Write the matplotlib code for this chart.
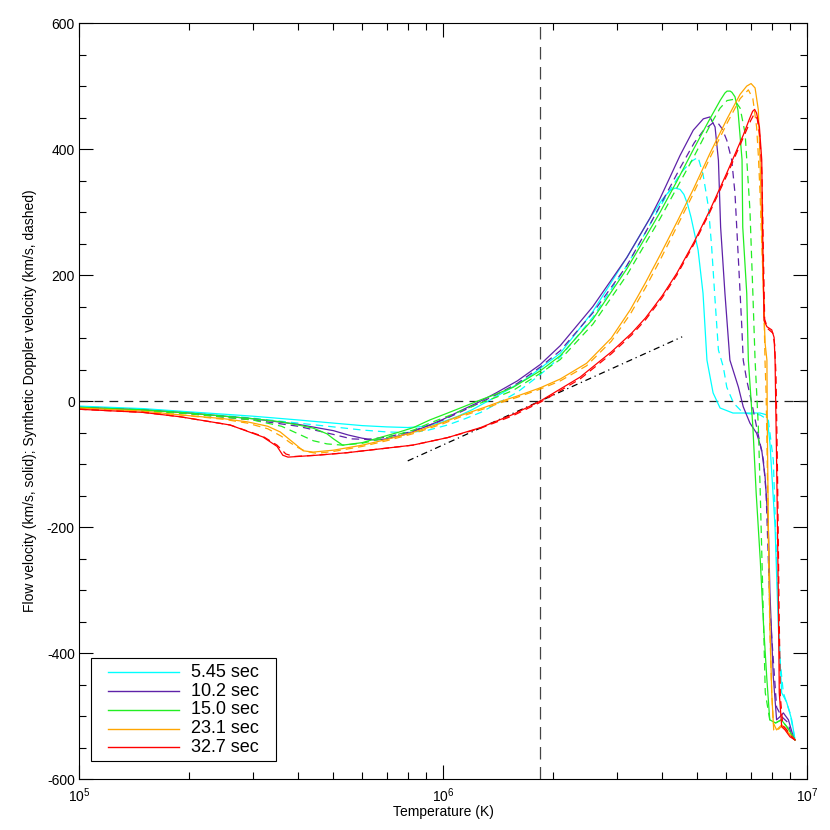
import numpy as np
import matplotlib.pyplot as plt
from matplotlib.ticker import MultipleLocator
from matplotlib.patches import Rectangle

plt.rcParams['font.family'] = ['Liberation Sans', 'DejaVu Sans']
plt.rcParams['axes.unicode_minus'] = False

labels = ['5.45 sec', '10.2 sec', '15.0 sec', '23.1 sec', '32.7 sec']
colors = ['#00FFFF', '#5E22A8', '#22EE22', '#FFA500', '#FF0000']

# temperature in MK, velocity in km/s
# 5.45 sec
t1_flow = [0.10, 0.15, 0.20, 0.30, 0.40, 0.50, 0.60, 0.70, 0.80, 0.90,
           1.00, 1.10, 1.20, 1.33, 1.50, 1.70, 1.85, 2.10, 2.58, 3.20,
           3.70, 4.00, 4.20, 4.34, 4.48, 4.59, 4.70, 4.80, 5.02, 5.18,
           5.31, 5.52, 5.77, 6.26, 6.80, 7.43, 7.76, 7.91, 8.17, 8.34,
           8.52, 8.79, 9.08, 9.27]
v1_flow = [-8, -12, -17, -24, -30, -35, -39, -41, -42, -40,
           -33, -24, -14, 0, 17, 36, 52, 76, 142, 228,
           290, 320, 334, 338, 336, 328, 312, 292, 240, 171,
           65, 13, -11, -19, -19, -19, -22, -67, -200, -358,
           -463, -478, -506, -538]
t1_dop = [0.10, 0.15, 0.20, 0.30, 0.40, 0.50, 0.60, 0.70, 0.80, 0.90,
          1.03, 1.15, 1.27, 1.45, 1.60, 1.85, 2.10, 2.58, 3.20, 3.70,
          4.10, 4.50, 4.80, 5.02, 5.18, 5.36, 5.47, 5.59, 5.71, 5.89,
          6.02, 6.28, 6.68, 7.43, 7.83, 8.08, 8.25, 8.43, 8.61, 8.98, 9.27]
v1_dop = [-9, -13, -18, -27, -35, -41, -46, -49, -50, -47,
          -38, -28, -18, 0, 14, 42, 70, 133, 215, 280,
          325, 362, 380, 387, 360, 308, 245, 160, 81, 54,
          22, -3, -19, -22, -30, -94, -252, -411, -463, -495, -538]

# 10.2 sec
t2_flow = [0.10, 0.15, 0.20, 0.30, 0.40, 0.50, 0.55, 0.60, 0.65, 0.70,
           0.80, 0.92, 1.00, 1.13, 1.25, 1.40, 1.60, 1.85, 2.10, 2.58,
           3.20, 3.70, 3.95, 4.20, 4.48, 4.87, 5.19, 5.41, 5.59, 5.71,
           5.79, 5.95, 6.14, 6.48, 6.68, 6.97, 7.27, 7.51, 7.67, 7.83,
           7.91, 8.08, 8.25, 8.43, 8.61, 8.89, 9.17, 9.27]
v2_flow = [-10, -14, -19, -28, -37, -47, -54, -59, -62, -60,
           -52, -38, -29, -14, -2, 13, 32, 58, 88, 150,
           228, 290, 322, 355, 390, 430, 448, 451, 435, 382,
           276, 171, 65, 22, -9, -35, -51, -78, -120, -200,
           -305, -438, -506, -501, -495, -506, -533, -538]
t2_dop = [0.10, 0.15, 0.20, 0.30, 0.40, 0.50, 0.56, 0.62, 0.70,
          0.80, 0.92, 1.00, 1.13, 1.25, 1.40, 1.60, 1.85, 2.10, 2.58,
          3.20, 3.70, 4.10, 4.50, 4.90, 5.20, 5.50, 5.70, 5.85, 6.02,
          6.21, 6.34, 6.48, 6.62, 6.68, 6.83, 7.05, 7.27, 7.43, 7.59,
          7.72, 7.83, 7.91, 8.08, 8.25, 8.52, 8.85, 9.10, 9.27]
v2_dop = [-11, -15, -20, -30, -40, -53, -60, -61, -57,
          -50, -38, -30, -16, -4, 10, 28, 54, 80, 140,
          215, 280, 328, 372, 410, 430, 441, 441, 432, 414,
          383, 330, 224, 118, 65, 33, -3, -41, -67, -94,
          -146, -252, -332, -411, -486, -501, -510, -533, -538]

# 15.0 sec
t3_flow = [0.10, 0.15, 0.20, 0.30, 0.36, 0.40, 0.44, 0.48, 0.50, 0.53,
           0.60, 0.67, 0.75, 0.83, 0.92, 1.03, 1.15, 1.27, 1.40, 1.56,
           1.85, 2.10, 2.58, 3.20, 3.60, 3.95, 4.40, 4.86, 5.41, 5.77,
           5.95, 6.03, 6.15, 6.22, 6.34, 6.46, 6.63, 6.66, 6.83, 6.90,
           7.10, 7.25, 7.44, 7.60, 7.75, 7.90, 8.20, 8.50, 8.80, 9.27]
v3_flow = [-10, -14, -19, -28, -33, -38, -43, -52, -60, -70,
           -66, -58, -50, -42, -30, -19, -8, 2, 11, 22,
           48, 72, 130, 210, 260, 300, 350, 398, 448, 477,
           489, 492, 492, 490, 483, 462, 383, 276, 171, 65,
           -41, -146, -252, -358, -438, -506, -511, -506, -517, -538]
t3_dop = [0.10, 0.15, 0.20, 0.30, 0.36, 0.40, 0.44, 0.48, 0.53, 0.60,
          0.70, 0.83, 0.92, 1.03, 1.15, 1.27, 1.40, 1.56, 1.85, 2.10,
          2.58, 3.20, 3.95, 4.86, 5.41, 5.77, 6.03, 6.30, 6.55, 6.76,
          6.97, 7.10, 7.20, 7.35, 7.44, 7.52, 7.60, 7.68, 7.90, 8.20,
          8.50, 8.80, 9.27]
v3_dop = [-11, -15, -20, -30, -40, -52, -63, -68, -70, -67,
          -58, -46, -35, -24, -13, -3, 6, 17, 44, 66,
          122, 200, 290, 385, 437, 465, 477, 479, 465, 425,
          303, 171, 65, -41, -146, -252, -358, -463, -506, -511,
          -506, -517, -538]

# 23.1 sec
t4_flow = [0.10, 0.15, 0.19, 0.25, 0.29, 0.33, 0.357, 0.39, 0.413, 0.44,
           0.50, 0.60, 0.70, 0.825, 1.00, 1.13, 1.30, 1.45, 1.60, 1.85,
           2.10, 2.48, 2.90, 3.27, 3.60, 3.95, 4.40, 4.86, 5.41, 6.03,
           6.55, 6.83, 7.02, 7.20, 7.35, 7.43, 7.51, 7.59, 7.67, 7.76,
           7.78, 7.83, 7.91, 8.00, 8.08, 8.25, 8.52, 8.89, 9.27]
v4_flow = [-11, -16, -22, -28, -33, -40, -49, -67, -79, -81,
           -78, -70, -61, -50, -34, -22, -10, 0, 8, 21,
           35, 60, 100, 145, 188, 232, 285, 335, 393, 448,
           487, 500, 504, 497, 462, 383, 276, 171, 92, 65,
           -41, -200, -358, -463, -511, -522, -514, -527, -538]
t4_dop = [0.10, 0.15, 0.19, 0.25, 0.29, 0.33, 0.36, 0.38, 0.40, 0.42,
          0.45, 0.50, 0.60, 0.70, 0.825, 1.00, 1.13, 1.30, 1.45, 1.60,
          1.85, 2.10, 2.48, 2.90, 3.27, 3.60, 3.95, 4.40, 4.86, 5.41,
          6.03, 6.55, 6.90, 7.10, 7.27, 7.35, 7.43, 7.51, 7.60, 7.67,
          7.72, 7.80, 7.90, 8.00, 8.10, 8.25, 8.52, 8.89, 9.27]
v4_dop = [-12, -17, -22, -29, -35, -44, -56, -66, -74, -80,
          -83, -80, -72, -63, -52, -36, -24, -12, -2, 6,
          19, 32, 56, 95, 138, 180, 224, 278, 328, 386,
          441, 480, 494, 480, 435, 390, 330, 250, 171, 60,
          13, -146, -358, -463, -522, -524, -516, -527, -538]

# 32.7 sec
t5_flow = [0.10, 0.15, 0.19, 0.26, 0.32, 0.35, 0.363, 0.375, 0.45, 0.545,
           0.67, 0.825, 1.03, 1.27, 1.56, 1.85, 2.38, 2.90, 3.30, 3.60,
           4.00, 4.39, 4.90, 5.41, 6.02, 6.68, 6.95, 7.09, 7.18, 7.27,
           7.40, 7.51, 7.55, 7.62, 7.76, 8.00, 8.12, 8.17, 8.25, 8.34,
           8.39, 8.52, 8.70, 8.98, 9.27]
v5_flow = [-13, -18, -25, -38, -57, -72, -86, -89, -86, -82,
           -76, -70, -58, -42, -21, 0, 38, 78, 108, 132,
           167, 203, 253, 303, 362, 422, 448, 460, 463, 457,
           435, 383, 276, 128, 118, 113, 101, 65, -94, -305,
           -463, -517, -522, -533, -538]
t5_dop = [0.10, 0.15, 0.19, 0.26, 0.32, 0.35, 0.37, 0.39, 0.45, 0.545,
          0.67, 0.825, 1.03, 1.27, 1.56, 1.85, 2.38, 2.90, 3.30, 3.60,
          4.00, 4.39, 4.90, 5.41, 6.02, 6.68, 7.00, 7.15, 7.30, 7.42,
          7.52, 7.58, 7.65, 7.80, 8.05, 8.15, 8.22, 8.30, 8.38, 8.45,
          8.58, 8.75, 9.00, 9.27]
v5_dop = [-13, -18, -25, -38, -56, -70, -84, -88, -86, -82,
          -76, -70, -58, -43, -23, -2, 35, 75, 105, 129,
          164, 200, 250, 300, 358, 418, 445, 455, 448, 420,
          360, 250, 130, 115, 108, 90, 40, -120, -330, -470,
          -515, -520, -530, -538]

# dash-dot reference line
t_ref = [0.80, 4.54]
v_ref = [-95, 102]
t_mark = 1.85  # vertical dashed line, MK

flows = [(t1_flow, v1_flow), (t2_flow, v2_flow), (t3_flow, v3_flow),
         (t4_flow, v4_flow), (t5_flow, v5_flow)]
dops = [(t1_dop, v1_dop), (t2_dop, v2_dop), (t3_dop, v3_dop),
        (t4_dop, v4_dop), (t5_dop, v5_dop)]

fig = plt.figure(figsize=(8.3, 8.3), dpi=100)
ax = fig.add_axes([0.0952, 0.0614, 0.8771, 0.9108])

ax.axhline(0, color='#222222', lw=0.9, dashes=(7, 5))
ax.axvline(t_mark * 1e6, color='#444444', lw=0.9, dashes=(10, 6))
ax.plot(np.array(t_ref) * 1e6, v_ref, color='black', lw=0.9, dashes=(5, 3, 1, 3))

for (tf, vf), (td, vd), c in zip(flows, dops, colors):
    ax.plot(np.array(tf) * 1e6, vf, color=c, lw=0.9)
    ax.plot(np.array(td) * 1e6, vd, color=c, lw=0.9, dashes=(6, 4))

ax.set_xscale('log')
ax.set_xlim(1e5, 1e7)
ax.set_ylim(-600, 600)
ax.yaxis.set_major_locator(MultipleLocator(200))
ax.yaxis.set_minor_locator(MultipleLocator(50))
ax.tick_params(which='both', direction='in', top=True, right=True, width=0.8,
               labelsize=10)
ax.tick_params(which='major', length=10)
ax.tick_params(which='minor', length=5)
ax.tick_params(axis='y', pad=3)
ax.tick_params(axis='x', pad=5)
for s in ax.spines.values():
    s.set_linewidth(0.8)

ax.set_xlabel('Temperature (K)', fontsize=10)
ax.set_ylabel('Flow velocity (km/s, solid); Synthetic Doppler velocity (km/s, dashed)',
              fontsize=10)
ax.xaxis.set_label_coords(0.5, -0.035)
ax.yaxis.set_label_coords(-0.058, 0.5)

# legend box drawn by hand in axes coordinates
ax.add_patch(Rectangle((0.0165, 0.0238), 0.2541, 0.1363, transform=ax.transAxes,
                       facecolor='white', edgecolor='black', lw=0.8, zorder=5))
for i, (lab, c) in enumerate(zip(labels, colors)):
    y = 0.1411 - i * 0.0248
    ax.plot([0.0398, 0.1374], [y, y], transform=ax.transAxes, color=c, lw=1.0, zorder=6)
    ax.text(0.1538, y, lab, transform=ax.transAxes, fontsize=13, va='center', zorder=6)

fig.savefig('out.png', dpi=100)
